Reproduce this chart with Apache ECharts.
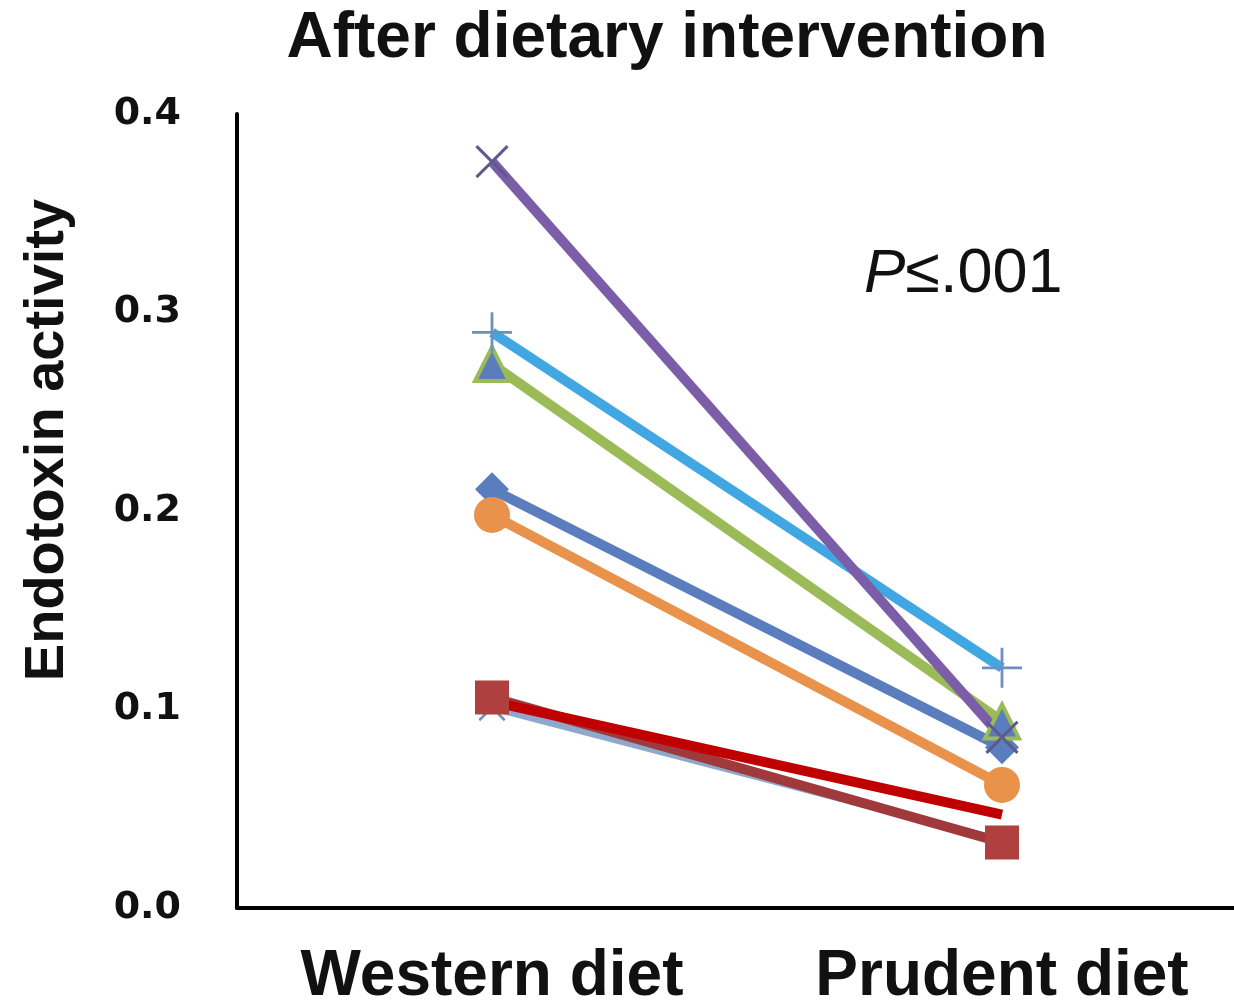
<!DOCTYPE html>
<html><head><meta charset="utf-8">
<script src="https://cdn.jsdelivr.net/npm/echarts@6/dist/echarts.min.js"></script>
<style>html,body{margin:0;padding:0;background:#fff}#c{width:1234px;height:1004px}</style>
</head><body><div id="c"></div>
<script>
const categories = ['Western diet', 'Prudent diet'];
const yTicks = [0, 0.1, 0.2, 0.3, 0.4];
const sSteelX   = [0.101, 0.034];
const sDarkRed  = [0.106, 0.033];
const sBlue     = [0.211, 0.081];
const sOrange   = [0.198, 0.062];
const sGreen    = [0.274, 0.094];
const sLightBlue= [0.290, 0.121];
const sPurple   = [0.376, 0.086];
const sRed      = [0.104, 0.047];

const plusPath = 'path://M-0.07,-1H0.07V-0.07H1V0.07H0.07V1H-0.07V0.07H-1V-0.07H-0.07Z';
function line(name, data, color, symbol, size, opts) {
  opts = opts || {};
  return Object.assign({
    name, type: 'line', data, symbol, symbolSize: size,
    lineStyle: { color, width: opts.width || 10 },
    itemStyle: Object.assign({ color, borderWidth: 0 }, opts.item || {}),
    symbolRotate: opts.rotate || 0,
    showSymbol: opts.showSymbol !== false,
    z: 2, animation: false
  }, opts.extra || {});
}
const chart = echarts.init(document.getElementById('c'));
chart.setOption({
  animation: false,
  title: {
    text: 'After dietary intervention', left: 662, textAlign: 'center', top: 2,
    textStyle: { fontFamily: 'Liberation Sans', fontWeight: 'bold', fontSize: 64, color: '#111' }
  },
  grid: { left: 237, top: 114, width: 1020, height: 794, outerBoundsMode: 'none', containLabel: false },
  xAxis: {
    type: 'category', data: categories, boundaryGap: true,
    axisLine: { lineStyle: { color: '#000', width: 4 } },
    axisTick: { show: false },
    axisLabel: { interval: 0, hideOverlap: false, fontFamily: 'Liberation Sans', fontWeight: 'bold', fontSize: 64, color: '#111', margin: 37 }
  },
  yAxis: {
    type: 'value', min: 0, max: 0.4, interval: 0.1,
    axisLine: { show: true, lineStyle: { color: '#000', width: 4 } },
    axisTick: { show: false },
    splitLine: { show: false },
    axisLabel: { fontFamily: 'DejaVu Sans', fontWeight: 'bold', fontSize: 38, color: '#111', margin: 56,
      formatter: v => v.toFixed(1) }
  },
  graphic: [{
    type: 'text', x: 48, y: 440, rotation: Math.PI / 2,
    style: {
      text: 'Endotoxin activity', align: 'center', verticalAlign: 'middle',
      fontFamily: 'Liberation Sans', fontWeight: 'bold', fontSize: 56, fill: '#111'
    }
  }, {
    type: 'text', left: 864, top: 243,
    style: {
      text: '{i|P}≤.001',
      rich: { i: { fontStyle: 'italic', fontFamily: 'Liberation Sans', fontSize: 62, fill: '#111' } },
      fontFamily: 'Liberation Sans', fontSize: 63, fill: '#111'
    }
  }],
  series: [
    line('S8', sSteelX, '#8FA9CC', plusPath, 36, { rotate: 45, width: 7, item: { color: '#6F8FBF' } }),
    line('S6', sDarkRed, '#A0393C', 'rect', 34, { item: { color: '#B0403F' } }),
    line('S1', sBlue, '#5A7DBE', 'diamond', 34),
    line('S2', sOrange, '#E8924B', 'circle', 36),
    line('S3', sGreen, '#9BBB59', 'triangle', 34, { item: { color: '#5A7DBE', borderColor: '#9BBB59', borderWidth: 4 } }),
    line('S5', sLightBlue, '#41A7E3', plusPath, 40, { item: { color: '#6E8FC2' } }),
    line('S4', sPurple, '#7B5EA7', plusPath, 44, { rotate: 45, item: { color: '#5E5A8E' } }),
    line('S7', sRed, '#C00000', 'none', 0, { showSymbol: false })
  ]
});
</script></body></html>
